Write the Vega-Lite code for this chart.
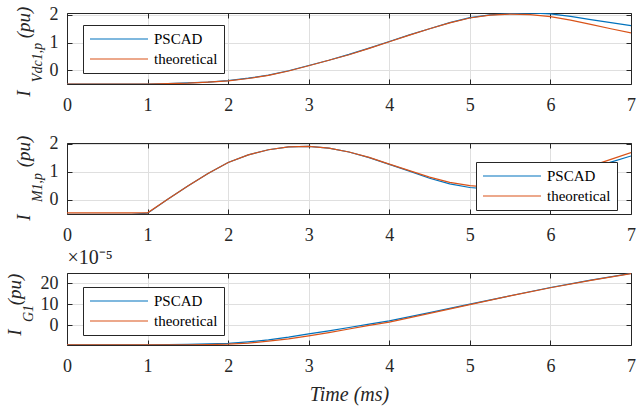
{
  "$schema": "https://vega.github.io/schema/vega-lite/v6.json",
  "padding": {"left": 5, "top": 5, "right": 2, "bottom": 5},
  "spacing": 59,
  "bounds": "flush",
  "resolve": {"scale": {"color": "independent"}, "legend": {"color": "independent"}},
  "datasets": {
    "p1": [
      {"t": 0, "s": "PSCAD", "v": -0.5}, {"t": 0.5, "s": "PSCAD", "v": -0.5}, {"t": 1, "s": "PSCAD", "v": -0.5},
      {"t": 1.25, "s": "PSCAD", "v": -0.49}, {"t": 1.5, "s": "PSCAD", "v": -0.46}, {"t": 1.75, "s": "PSCAD", "v": -0.43},
      {"t": 2, "s": "PSCAD", "v": -0.38}, {"t": 2.25, "s": "PSCAD", "v": -0.29}, {"t": 2.5, "s": "PSCAD", "v": -0.18},
      {"t": 2.75, "s": "PSCAD", "v": -0.02}, {"t": 3, "s": "PSCAD", "v": 0.17}, {"t": 3.25, "s": "PSCAD", "v": 0.36},
      {"t": 3.5, "s": "PSCAD", "v": 0.57}, {"t": 3.75, "s": "PSCAD", "v": 0.8}, {"t": 4, "s": "PSCAD", "v": 1.04},
      {"t": 4.25, "s": "PSCAD", "v": 1.28}, {"t": 4.5, "s": "PSCAD", "v": 1.5}, {"t": 4.75, "s": "PSCAD", "v": 1.72},
      {"t": 5, "s": "PSCAD", "v": 1.9}, {"t": 5.25, "s": "PSCAD", "v": 2.0}, {"t": 5.5, "s": "PSCAD", "v": 2.05},
      {"t": 5.75, "s": "PSCAD", "v": 2.07}, {"t": 6, "s": "PSCAD", "v": 2.04}, {"t": 6.25, "s": "PSCAD", "v": 1.95},
      {"t": 6.5, "s": "PSCAD", "v": 1.83}, {"t": 6.75, "s": "PSCAD", "v": 1.72}, {"t": 7, "s": "PSCAD", "v": 1.61},
      {"t": 0, "s": "theoretical", "v": -0.5}, {"t": 0.5, "s": "theoretical", "v": -0.5}, {"t": 1, "s": "theoretical", "v": -0.5},
      {"t": 1.25, "s": "theoretical", "v": -0.49}, {"t": 1.5, "s": "theoretical", "v": -0.47}, {"t": 1.75, "s": "theoretical", "v": -0.43},
      {"t": 2, "s": "theoretical", "v": -0.39}, {"t": 2.25, "s": "theoretical", "v": -0.3}, {"t": 2.5, "s": "theoretical", "v": -0.19},
      {"t": 2.75, "s": "theoretical", "v": -0.03}, {"t": 3, "s": "theoretical", "v": 0.16}, {"t": 3.25, "s": "theoretical", "v": 0.36},
      {"t": 3.5, "s": "theoretical", "v": 0.56}, {"t": 3.75, "s": "theoretical", "v": 0.79}, {"t": 4, "s": "theoretical", "v": 1.03},
      {"t": 4.25, "s": "theoretical", "v": 1.27}, {"t": 4.5, "s": "theoretical", "v": 1.5}, {"t": 4.75, "s": "theoretical", "v": 1.71},
      {"t": 5, "s": "theoretical", "v": 1.89}, {"t": 5.25, "s": "theoretical", "v": 1.99}, {"t": 5.5, "s": "theoretical", "v": 2.03},
      {"t": 5.75, "s": "theoretical", "v": 2.01}, {"t": 6, "s": "theoretical", "v": 1.94}, {"t": 6.25, "s": "theoretical", "v": 1.81},
      {"t": 6.5, "s": "theoretical", "v": 1.66}, {"t": 6.75, "s": "theoretical", "v": 1.5}, {"t": 7, "s": "theoretical", "v": 1.35}
    ],
    "p2": [
      {"t": 0, "s": "PSCAD", "v": -0.51}, {"t": 0.5, "s": "PSCAD", "v": -0.51}, {"t": 0.8, "s": "PSCAD", "v": -0.51},
      {"t": 1, "s": "PSCAD", "v": -0.47}, {"t": 1.25, "s": "PSCAD", "v": 0.02}, {"t": 1.5, "s": "PSCAD", "v": 0.49},
      {"t": 1.75, "s": "PSCAD", "v": 0.94}, {"t": 2, "s": "PSCAD", "v": 1.33}, {"t": 2.25, "s": "PSCAD", "v": 1.6},
      {"t": 2.5, "s": "PSCAD", "v": 1.78}, {"t": 2.75, "s": "PSCAD", "v": 1.88}, {"t": 3, "s": "PSCAD", "v": 1.9},
      {"t": 3.25, "s": "PSCAD", "v": 1.84}, {"t": 3.5, "s": "PSCAD", "v": 1.7}, {"t": 3.75, "s": "PSCAD", "v": 1.5},
      {"t": 4, "s": "PSCAD", "v": 1.26}, {"t": 4.25, "s": "PSCAD", "v": 1.02}, {"t": 4.5, "s": "PSCAD", "v": 0.77},
      {"t": 4.75, "s": "PSCAD", "v": 0.57}, {"t": 5, "s": "PSCAD", "v": 0.44}, {"t": 5.25, "s": "PSCAD", "v": 0.38},
      {"t": 5.5, "s": "PSCAD", "v": 0.4}, {"t": 5.75, "s": "PSCAD", "v": 0.49}, {"t": 6, "s": "PSCAD", "v": 0.66},
      {"t": 6.25, "s": "PSCAD", "v": 0.87}, {"t": 6.5, "s": "PSCAD", "v": 1.1}, {"t": 6.75, "s": "PSCAD", "v": 1.34},
      {"t": 7, "s": "PSCAD", "v": 1.56},
      {"t": 0, "s": "theoretical", "v": -0.46}, {"t": 0.5, "s": "theoretical", "v": -0.46}, {"t": 0.8, "s": "theoretical", "v": -0.46},
      {"t": 1, "s": "theoretical", "v": -0.46}, {"t": 1.25, "s": "theoretical", "v": 0.02}, {"t": 1.5, "s": "theoretical", "v": 0.49},
      {"t": 1.75, "s": "theoretical", "v": 0.94}, {"t": 2, "s": "theoretical", "v": 1.33}, {"t": 2.25, "s": "theoretical", "v": 1.6},
      {"t": 2.5, "s": "theoretical", "v": 1.78}, {"t": 2.75, "s": "theoretical", "v": 1.88}, {"t": 3, "s": "theoretical", "v": 1.9},
      {"t": 3.25, "s": "theoretical", "v": 1.84}, {"t": 3.5, "s": "theoretical", "v": 1.7}, {"t": 3.75, "s": "theoretical", "v": 1.51},
      {"t": 4, "s": "theoretical", "v": 1.27}, {"t": 4.25, "s": "theoretical", "v": 1.04}, {"t": 4.5, "s": "theoretical", "v": 0.81},
      {"t": 4.75, "s": "theoretical", "v": 0.62}, {"t": 5, "s": "theoretical", "v": 0.51}, {"t": 5.25, "s": "theoretical", "v": 0.45},
      {"t": 5.5, "s": "theoretical", "v": 0.47}, {"t": 5.75, "s": "theoretical", "v": 0.56}, {"t": 6, "s": "theoretical", "v": 0.74},
      {"t": 6.25, "s": "theoretical", "v": 0.96}, {"t": 6.5, "s": "theoretical", "v": 1.2}, {"t": 6.75, "s": "theoretical", "v": 1.44},
      {"t": 7, "s": "theoretical", "v": 1.68}
    ],
    "p3": [
      {"t": 0, "s": "PSCAD", "v": -9.3}, {"t": 0.5, "s": "PSCAD", "v": -9.3}, {"t": 1, "s": "PSCAD", "v": -9.3},
      {"t": 1.25, "s": "PSCAD", "v": -9.25}, {"t": 1.5, "s": "PSCAD", "v": -9.1}, {"t": 1.75, "s": "PSCAD", "v": -8.9},
      {"t": 2, "s": "PSCAD", "v": -8.6}, {"t": 2.25, "s": "PSCAD", "v": -7.9}, {"t": 2.5, "s": "PSCAD", "v": -7.0},
      {"t": 2.75, "s": "PSCAD", "v": -5.7}, {"t": 3, "s": "PSCAD", "v": -4.1}, {"t": 3.25, "s": "PSCAD", "v": -2.7},
      {"t": 3.5, "s": "PSCAD", "v": -1.1}, {"t": 3.75, "s": "PSCAD", "v": 0.5}, {"t": 4, "s": "PSCAD", "v": 2.1},
      {"t": 4.5, "s": "PSCAD", "v": 6.0}, {"t": 5, "s": "PSCAD", "v": 10.0}, {"t": 5.5, "s": "PSCAD", "v": 14.0},
      {"t": 6, "s": "PSCAD", "v": 17.9}, {"t": 6.5, "s": "PSCAD", "v": 21.4}, {"t": 7, "s": "PSCAD", "v": 24.6},
      {"t": 0, "s": "theoretical", "v": -9.35}, {"t": 0.5, "s": "theoretical", "v": -9.35}, {"t": 1, "s": "theoretical", "v": -9.35},
      {"t": 1.25, "s": "theoretical", "v": -9.34}, {"t": 1.5, "s": "theoretical", "v": -9.3}, {"t": 1.75, "s": "theoretical", "v": -9.2},
      {"t": 2, "s": "theoretical", "v": -9.0}, {"t": 2.25, "s": "theoretical", "v": -8.5}, {"t": 2.5, "s": "theoretical", "v": -7.6},
      {"t": 2.75, "s": "theoretical", "v": -6.5}, {"t": 3, "s": "theoretical", "v": -5.1}, {"t": 3.25, "s": "theoretical", "v": -3.5},
      {"t": 3.5, "s": "theoretical", "v": -1.8}, {"t": 3.75, "s": "theoretical", "v": -0.1}, {"t": 4, "s": "theoretical", "v": 1.5},
      {"t": 4.5, "s": "theoretical", "v": 5.6}, {"t": 5, "s": "theoretical", "v": 9.8}, {"t": 5.5, "s": "theoretical", "v": 13.9},
      {"t": 6, "s": "theoretical", "v": 17.8}, {"t": 6.5, "s": "theoretical", "v": 21.3}, {"t": 7, "s": "theoretical", "v": 24.5}
    ]
  },
  "vconcat": [
    {
      "width": 564, "height": 71,
      "data": {"name": "p1"},
      "resolve": {"axis": {"x": "independent", "y": "independent"}},
      "layer": [
        {
          "mark": {"type": "line", "strokeWidth": 1.2, "clip": true},
          "encoding": {
            "x": {"field": "t", "type": "quantitative", "scale": {"domain": [0, 7], "nice": false},
                  "axis": {"values": [0, 1, 2, 3, 4, 5, 6, 7], "grid": true, "title": null, "labelPadding": 17}},
            "y": {"field": "v", "type": "quantitative", "scale": {"domain": [-0.5, 2.07], "nice": false, "zero": false},
                  "axis": {"values": [0, 1, 2], "grid": true, "labelPadding": 14, "title": "(pu)", "titleX": -37.5, "titleY": 9}},
            "color": {"field": "s", "type": "nominal", "scale": {"domain": ["PSCAD", "theoretical"], "range": ["#0072BD", "#D95319"]},
                      "legend": {"legendX": 16, "legendY": 12}}
          }
        },
        {
          "mark": {"type": "line", "opacity": 0},
          "encoding": {
            "x": {"field": "t", "type": "quantitative", "scale": {"domain": [0, 7], "nice": false},
                  "axis": {"orient": "top", "values": [0, 1, 2, 3, 4, 5, 6, 7], "labels": false, "grid": false, "title": null}},
            "y": {"field": "v", "type": "quantitative", "scale": {"domain": [-0.5, 2.07], "nice": false, "zero": false},
                  "axis": {"orient": "right", "values": [0, 1, 2], "labels": false, "grid": false, "title": null}}
          }
        },
        {
          "mark": {"type": "line", "opacity": 0},
          "encoding": {
            "x": {"field": "t", "type": "quantitative", "scale": {"domain": [0, 7], "nice": false}, "axis": null},
            "y": {"field": "v", "type": "quantitative", "scale": {"domain": [-0.5, 2.07], "nice": false, "zero": false},
                  "axis": {"orient": "left", "domain": false, "ticks": false, "labels": false, "grid": false, "title": "I", "titleX": -37.5, "titleY": 80}}
          }
        },
        {
          "mark": {"type": "line", "opacity": 0},
          "encoding": {
            "x": {"field": "t", "type": "quantitative", "scale": {"domain": [0, 7], "nice": false}, "axis": null},
            "y": {"field": "v", "type": "quantitative", "scale": {"domain": [-0.5, 2.07], "nice": false, "zero": false},
                  "axis": {"orient": "left", "domain": false, "ticks": false, "labels": false, "grid": false, "title": "Vdc1,p", "titleFontSize": 14, "titleX": -26, "titleY": 49}}
          }
        }
      ]
    },
    {
      "width": 564, "height": 71,
      "data": {"name": "p2"},
      "resolve": {"axis": {"x": "independent", "y": "independent"}},
      "layer": [
        {
          "mark": {"type": "line", "strokeWidth": 1.2, "clip": true},
          "encoding": {
            "x": {"field": "t", "type": "quantitative", "scale": {"domain": [0, 7], "nice": false},
                  "axis": {"values": [0, 1, 2, 3, 4, 5, 6, 7], "grid": true, "title": null, "labelPadding": 17}},
            "y": {"field": "v", "type": "quantitative", "scale": {"domain": [-0.5, 2.02], "nice": false, "zero": false},
                  "axis": {"values": [0, 1, 2], "grid": true, "labelPadding": 14, "title": "(pu)", "titleX": -37.5, "titleY": 8}},
            "color": {"field": "s", "type": "nominal", "scale": {"domain": ["PSCAD", "theoretical"], "range": ["#0072BD", "#D95319"]},
                      "legend": {"legendX": 409, "legendY": 19}}
          }
        },
        {
          "mark": {"type": "line", "opacity": 0},
          "encoding": {
            "x": {"field": "t", "type": "quantitative", "scale": {"domain": [0, 7], "nice": false},
                  "axis": {"orient": "top", "values": [0, 1, 2, 3, 4, 5, 6, 7], "labels": false, "grid": false, "title": null}},
            "y": {"field": "v", "type": "quantitative", "scale": {"domain": [-0.5, 2.02], "nice": false, "zero": false},
                  "axis": {"orient": "right", "values": [0, 1, 2], "labels": false, "grid": false, "title": null}}
          }
        },
        {
          "mark": {"type": "line", "opacity": 0},
          "encoding": {
            "x": {"field": "t", "type": "quantitative", "scale": {"domain": [0, 7], "nice": false}, "axis": null},
            "y": {"field": "v", "type": "quantitative", "scale": {"domain": [-0.5, 2.02], "nice": false, "zero": false},
                  "axis": {"orient": "left", "domain": false, "ticks": false, "labels": false, "grid": false, "title": "I", "titleX": -37.5, "titleY": 74}}
          }
        },
        {
          "mark": {"type": "line", "opacity": 0},
          "encoding": {
            "x": {"field": "t", "type": "quantitative", "scale": {"domain": [0, 7], "nice": false}, "axis": null},
            "y": {"field": "v", "type": "quantitative", "scale": {"domain": [-0.5, 2.02], "nice": false, "zero": false},
                  "axis": {"orient": "left", "domain": false, "ticks": false, "labels": false, "grid": false, "title": "M1,p", "titleFontSize": 14, "titleX": -26, "titleY": 44}}
          }
        }
      ]
    },
    {
      "width": 564, "height": 72,
      "data": {"name": "p3"},
      "resolve": {"axis": {"x": "independent", "y": "independent"}},
      "layer": [
        {
          "mark": {"type": "line", "strokeWidth": 1.2, "clip": true},
          "encoding": {
            "x": {"field": "t", "type": "quantitative", "scale": {"domain": [0, 7], "nice": false},
                  "axis": {"values": [0, 1, 2, 3, 4, 5, 6, 7], "grid": true, "labelPadding": 17, "title": "Time (ms)", "titleFontSize": 20, "titleX": 282, "titleY": 55}},
            "y": {"field": "v", "type": "quantitative", "scale": {"domain": [-9.4, 24.8], "nice": false, "zero": false},
                  "axis": {"values": [0, 10, 20], "grid": true, "labelPadding": 14, "title": "(pu)", "titleX": -46.5, "titleY": 16}},
            "color": {"field": "s", "type": "nominal", "scale": {"domain": ["PSCAD", "theoretical"], "range": ["#0072BD", "#D95319"]},
                      "legend": {"legendX": 16, "legendY": 14}}
          }
        },
        {
          "mark": {"type": "line", "opacity": 0},
          "encoding": {
            "x": {"field": "t", "type": "quantitative", "scale": {"domain": [0, 7], "nice": false},
                  "axis": {"orient": "top", "values": [0, 1, 2, 3, 4, 5, 6, 7], "labels": false, "grid": false,
                           "title": "×10⁻⁵", "titleX": 0, "titleY": -10, "titleAlign": "left", "titleFontStyle": "normal", "titleFontSize": 20}},
            "y": {"field": "v", "type": "quantitative", "scale": {"domain": [-9.4, 24.8], "nice": false, "zero": false},
                  "axis": {"orient": "right", "values": [0, 10, 20], "labels": false, "grid": false, "title": null}}
          }
        },
        {
          "mark": {"type": "line", "opacity": 0},
          "encoding": {
            "x": {"field": "t", "type": "quantitative", "scale": {"domain": [0, 7], "nice": false}, "axis": null},
            "y": {"field": "v", "type": "quantitative", "scale": {"domain": [-9.4, 24.8], "nice": false, "zero": false},
                  "axis": {"orient": "left", "domain": false, "ticks": false, "labels": false, "grid": false, "title": "I", "titleX": -46.5, "titleY": 59}}
          }
        },
        {
          "mark": {"type": "line", "opacity": 0},
          "encoding": {
            "x": {"field": "t", "type": "quantitative", "scale": {"domain": [0, 7], "nice": false}, "axis": null},
            "y": {"field": "v", "type": "quantitative", "scale": {"domain": [-9.4, 24.8], "nice": false, "zero": false},
                  "axis": {"orient": "left", "domain": false, "ticks": false, "labels": false, "grid": false, "title": "G1", "titleFontSize": 14, "titleX": -35, "titleY": 40}}
          }
        }
      ]
    }
  ],
  "config": {
    "font": "Liberation Serif, Times New Roman, serif",
    "view": {"stroke": null},
    "axis": {
      "labelFont": "Liberation Serif, Times New Roman, serif", "labelFontSize": 18, "labelColor": "#262626", "labelFlush": false, "labelOverlap": false,
      "titleFont": "Liberation Serif, Times New Roman, serif", "titleFontSize": 19, "titleFontStyle": "italic", "titleFontWeight": "normal", "titleColor": "#262626",
      "titleBaseline": "alphabetic",
      "domainColor": "#262626", "domainWidth": 1, "tickColor": "#262626", "tickWidth": 1, "tickSize": -5,
      "gridColor": "#dfdfdf", "gridWidth": 1
    },
    "axisY": {"titleAngle": -90, "titleAlign": "center"},
    "axisX": {"titleAngle": 0, "titleAlign": "center"},
    "legend": {
      "orient": "none", "title": null, "symbolType": "stroke", "symbolSize": 3364, "symbolStrokeWidth": 1.2,
      "labelFont": "Liberation Serif, Times New Roman, serif", "labelFontSize": 15, "labelColor": "#000000", "labelOffset": 5,
      "strokeColor": "#262626", "fillColor": "#ffffff", "padding": 6, "rowPadding": 4, "clipHeight": 16, "cornerRadius": 0
    }
  }
}
